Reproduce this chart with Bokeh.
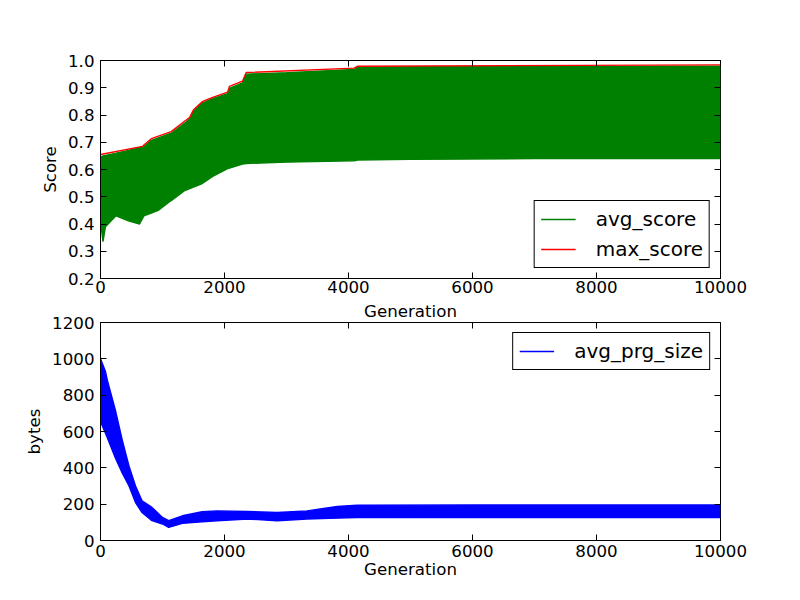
from bokeh.plotting import figure
from bokeh.models import (Range1d, FixedTicker, PrintfTickFormatter, LinearAxis,
                          Legend, LegendItem, CustomJSTickFormatter)
from bokeh.layouts import column
from bokeh.embed import file_html
from bokeh.resources import INLINE

# ---------------- data ----------------
# green avg_score band: envelope of the oscillating series
score_gen = [0, 40, 80, 250, 450, 630, 700, 820, 930, 1140, 1360, 1440, 1500,
             1630, 1810, 2050, 2080, 2290, 2350, 3000, 4090, 4150, 5000, 7000, 10000]
avg_score_upper = [0.645, 0.650, 0.652, 0.660, 0.670, 0.680, 0.683, 0.707, 0.716,
                   0.733, 0.770, 0.786, 0.812, 0.843, 0.860, 0.878, 0.898, 0.918,
                   0.950, 0.955, 0.967, 0.975, 0.977, 0.978, 0.979]
avg_score_lower = [0.410, 0.335, 0.390, 0.430, 0.412, 0.400, 0.430, 0.440, 0.450,
                   0.486, 0.523, 0.530, 0.535, 0.547, 0.575, 0.603, 0.605, 0.620,
                   0.622, 0.627, 0.632, 0.635, 0.637, 0.640, 0.640]

max_gen = [0, 680, 700, 820, 1140, 1440, 1500, 1650, 1810, 2050, 2080, 2290, 2350,
           4090, 4150, 10000]
max_score = [0.655, 0.685, 0.690, 0.713, 0.739, 0.792, 0.819, 0.850, 0.865, 0.884,
             0.905, 0.924, 0.956, 0.972, 0.979, 0.984]

# blue avg_prg_size band
size_gen = [0, 80, 110, 240, 350, 460, 565, 670, 830, 1000, 1100, 1320, 1640, 1880,
            2370, 2850, 3330, 3820, 4140, 6000, 10000]
size_upper = [1000, 930, 882, 718, 554, 409, 300, 218, 182, 127, 109, 136, 158, 163,
              160, 154, 163, 187, 194, 196, 196]
size_lower = [654, 591, 566, 454, 372, 300, 209, 154, 109, 91, 72, 94, 103, 109,
              118, 109, 118, 123, 127, 127, 127]

x_ticks = [0, 2000, 4000, 6000, 8000, 10000]
score_ticks = [0.2, 0.3, 0.4, 0.5, 0.6, 0.7, 0.8, 0.9, 1.0]
bytes_ticks = [0, 200, 400, 600, 800, 1000, 1200]

GREEN = "#008000"
RED = "#ff0000"
BLUE = "#0000ff"
FONT = "DejaVu Sans"
TICK_FS = "16.67px"


def style(p, yticks, yfmt, ylabel, xlabel, xstandoff):
    p.outline_line_color = "black"
    p.outline_line_width = 1
    p.outline_line_alpha = 1
    p.grid.visible = False
    for ax in p.xaxis + p.yaxis:
        ax.major_tick_in = 6
        ax.major_tick_out = 0
        ax.minor_tick_line_color = None
        ax.axis_line_color = "black"
        ax.major_label_text_font = FONT
        ax.major_label_text_font_size = TICK_FS
        ax.major_label_text_color = "black"
        ax.axis_label_text_font = FONT
        ax.axis_label_text_font_size = TICK_FS
        ax.axis_label_text_font_style = "normal"
        ax.axis_label_text_color = "black"
    p.xaxis.ticker = FixedTicker(ticks=x_ticks)
    p.xaxis.major_label_standoff = xstandoff
    p.xaxis.axis_label_standoff = 0
    if xlabel:
        p.xaxis.axis_label = xlabel
    p.yaxis.ticker = FixedTicker(ticks=yticks)
    p.yaxis.formatter = PrintfTickFormatter(format=yfmt)
    p.yaxis.major_label_standoff = 6
    p.yaxis.axis_label_standoff = 5
    p.yaxis.axis_label = ylabel
    # ticks on top and right side (no labels)
    blank = CustomJSTickFormatter(code="return '';")
    top = LinearAxis(ticker=FixedTicker(ticks=x_ticks), major_tick_in=6, major_tick_out=0,
                     minor_tick_line_color=None, axis_line_color=None,
                     formatter=blank, major_label_standoff=0)
    right = LinearAxis(ticker=FixedTicker(ticks=yticks), major_tick_in=6, major_tick_out=0,
                       minor_tick_line_color=None, axis_line_color=None,
                       formatter=blank, major_label_standoff=0)
    p.add_layout(top, "above")
    p.add_layout(right, "right")


def make_legend(items, loc):
    lg = Legend(items=items, location=loc, margin=10, padding=6, spacing=6,
                glyph_width=35, glyph_height=24, label_height=24, label_standoff=20,
                label_text_font=FONT, label_text_font_size="20px",
                label_text_color="black",
                border_line_color="black", border_line_width=1, border_line_alpha=1.0,
                background_fill_color="white", background_fill_alpha=1.0)
    return lg


# ---------------- top panel ----------------
p1 = figure(width=790, height=300, output_backend="svg", toolbar_location=None,
            x_range=Range1d(0, 10000), y_range=Range1d(0.2, 1.0),
            min_border_left=100, min_border_right=70, min_border_top=60,
            min_border_bottom=22)
p1.varea(x=score_gen, y1=avg_score_lower, y2=avg_score_upper, fill_color=GREEN)
g_up = p1.line(score_gen, avg_score_upper, line_color=GREEN, line_width=1.4)
p1.line(score_gen, avg_score_lower, line_color=GREEN, line_width=1.4)
r_max = p1.line(max_gen, max_score, line_color=RED, line_width=1.4)
style(p1, score_ticks, "%.1f", "Score", None, 2)
p1.add_layout(make_legend([LegendItem(label="avg_score", renderers=[g_up]),
                           LegendItem(label="max_score", renderers=[r_max])],
                          "bottom_right"))

# ---------------- bottom panel ----------------
# the top panel's x-axis label "Generation" is shown as this panel's heading,
# so that it can sit beside the "1200" tick label
p2 = figure(width=790, height=288, output_backend="svg", toolbar_location=None,
            x_range=Range1d(0, 10000), y_range=Range1d(0, 1200),
            min_border_left=100, min_border_right=70, min_border_top=22,
            min_border_bottom=48)
p2.title.text = "Generation"
p2.title.align = "center"
p2.title.text_font = FONT
p2.title.text_font_size = TICK_FS
p2.title.text_font_style = "normal"
p2.title.text_color = "black"
p2.title.standoff = 0
p2.title.offset = 0
p2.title.vertical_align = "top"
p2.varea(x=size_gen, y1=size_lower, y2=size_upper, fill_color=BLUE)
b_up = p2.line(size_gen, size_upper, line_color=BLUE, line_width=1.4)
p2.line(size_gen, size_lower, line_color=BLUE, line_width=1.4)
style(p2, bytes_ticks, "%d", "bytes", "Generation", 4)
p2.add_layout(make_legend([LegendItem(label="avg_prg_size", renderers=[b_up])],
                          "top_right"))

layout = column(p1, p2, spacing=0)
open("out.html", "w").write(file_html(layout, INLINE))
